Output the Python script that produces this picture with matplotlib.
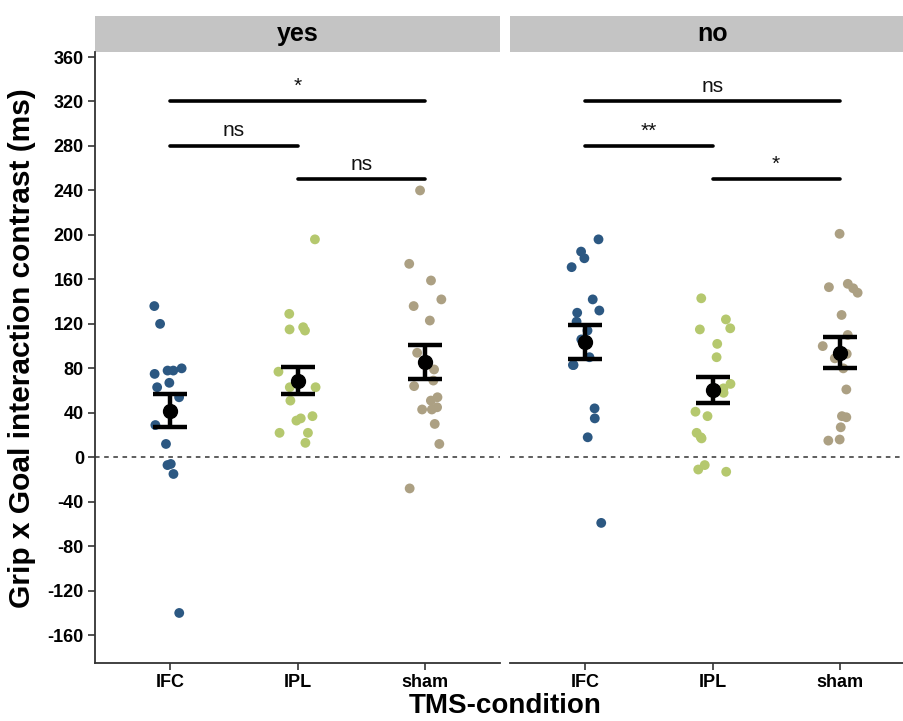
import numpy as np
import matplotlib
matplotlib.use("Agg")
import matplotlib.pyplot as plt
from matplotlib.patches import Rectangle

plt.rcParams['font.family'] = ['Liberation Sans', 'DejaVu Sans']

# data
conditions = ["IFC", "IPL", "sham"]
panels = ["yes", "no"]

yes_IFC = [136, 120, 80, 78, 75, 78, 67, 63, 54, 29, 12, -6, -7, -15, -140]
yes_IPL = [196, 129, 117, 114, 115, 77, 63, 63, 51, 37, 35, 33, 22, 22, 13]
yes_sham = [240, 174, 159, 142, 136, 123, 94, 79, 69, 64, 54, 51, 43, 45, 43, 30, 12, -28]
no_IFC = [196, 185, 179, 171, 142, 130, 132, 122, 114, 106, 90, 83, 83, 44, 35, 18, -59]
no_IPL = [143, 124, 115, 116, 102, 90, 66, 62, 58, 41, 37, 22, 18, 17, -13, -11, -7]
no_sham = [201, 152, 148, 156, 153, 128, 110, 100, 93, 89, 80, 61, 36, 27, 37, 15, 16]

yes_mean = [42, 69, 85.5]
yes_se = [14.5, 12, 15.5]
no_mean = [103.5, 60.5, 94]
no_se = [15.5, 11.5, 14]

bracket_from = ["IFC", "IFC", "IPL"]
bracket_to = ["sham", "IPL", "sham"]
bracket_y = [320, 280, 250]
yes_labels = ["*", "ns", "ns"]
no_labels = ["ns", "**", "*"]

yticks = np.arange(-160, 361, 40)

colors = ["#2c5882", "#b5c86e", "#aca083"]

panel_points = {"yes": [yes_IFC, yes_IPL, yes_sham], "no": [no_IFC, no_IPL, no_sham]}
panel_mean = {"yes": yes_mean, "no": no_mean}
panel_se = {"yes": yes_se, "no": no_se}
panel_labels = {"yes": yes_labels, "no": no_labels}

W, H = 904, 721
fig = plt.figure(figsize=(W / 100, H / 100), dpi=100)

top, bottom = 52, 663
rng = np.random.default_rng(3)
lefts = [95, 510]

for p, name in enumerate(panels):
    ax = fig.add_axes([lefts[p] / W, 1 - bottom / H, 405 / W, (bottom - top) / H])
    xpos = np.arange(len(conditions))

    ax.axhline(0, color="#333333", linestyle=(0, (3, 3)), linewidth=1.1, zorder=1)

    for i, vals in enumerate(panel_points[name]):
        jit = rng.uniform(-0.15, 0.15, len(vals))
        ax.scatter(xpos[i] + jit, vals, s=50, color=colors[i], edgecolors="none", zorder=2)

    ax.errorbar(xpos, panel_mean[name], yerr=panel_se[name], fmt="o", color="black",
                markersize=10, elinewidth=3.2, capsize=12, capthick=3.2, zorder=4)

    for a, b, y, lab in zip(bracket_from, bracket_to, bracket_y, panel_labels[name]):
        x0 = conditions.index(a)
        x1 = conditions.index(b)
        ax.plot([x0, x1], [y, y], color="black", linewidth=2.6, solid_capstyle="round", zorder=3)
        ax.text((x0 + x1) / 2, y + 5, lab, ha="center", va="bottom", fontsize=15, color="#111111")

    ax.set_xlim(-0.59, 2.59)
    ax.set_ylim(-185, 364.5)
    ax.set_xticks(xpos)
    ax.set_xticklabels(conditions, fontsize=13, fontweight="bold")
    ax.set_yticks(yticks)

    for s in ["top", "right"]:
        ax.spines[s].set_visible(False)
    ax.spines["bottom"].set_color("#333333")
    ax.spines["bottom"].set_linewidth(1.3)
    ax.tick_params(axis="x", length=5, width=1.2, color="#333333", pad=3)

    if p == 0:
        ax.spines["left"].set_color("#333333")
        ax.spines["left"].set_linewidth(1.3)
        ax.set_yticklabels([str(t) for t in yticks], fontsize=13, fontweight="bold")
        ax.tick_params(axis="y", length=5, width=1.2, color="#333333", pad=3)
    else:
        ax.spines["left"].set_visible(False)
        ax.tick_params(axis="y", left=False, labelleft=False)

    # facet strip
    strip_h = 36 / (bottom - top)
    ax.add_patch(Rectangle((0, 1), 1, strip_h, transform=ax.transAxes, facecolor="#c4c4c4",
                           edgecolor="none", clip_on=False))
    ax.text(0.5, 1 + strip_h / 2, name, transform=ax.transAxes, ha="center", va="center",
            fontsize=18, fontweight="bold")

fig.text(505 / W, 1 - 706 / H, "TMS-condition", ha="center", va="center", fontsize=20, fontweight="bold")
fig.text(22 / W, 1 - 348 / H, "Grip x Goal interaction contrast (ms)", ha="center", va="center",
         rotation=90, fontsize=21.5, fontweight="bold")

fig.savefig("out.png", dpi=100)
